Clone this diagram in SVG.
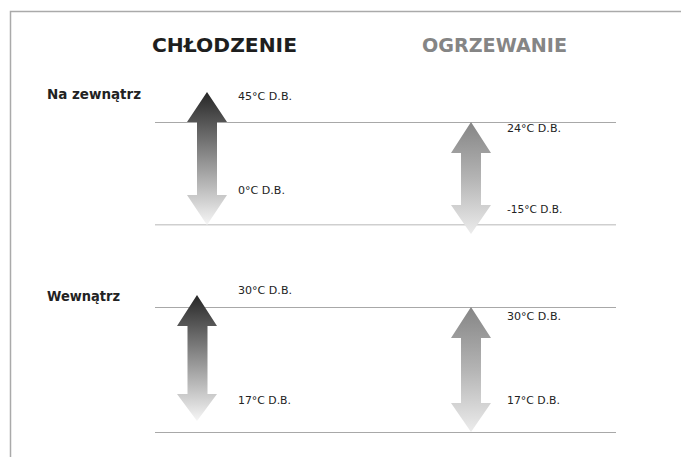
<svg xmlns="http://www.w3.org/2000/svg" width="681" height="457" viewBox="0 0 681 457">
<defs>
<linearGradient id="gCool" x1="0" y1="0" x2="0" y2="1">
<stop offset="0" stop-color="#262626"/>
<stop offset="0.5" stop-color="#8e8e8e"/>
<stop offset="1" stop-color="#f6f6f6"/>
</linearGradient>
<linearGradient id="gHeat" x1="0" y1="0" x2="0" y2="1">
<stop offset="0" stop-color="#858585"/>
<stop offset="0.5" stop-color="#b4b4b4"/>
<stop offset="1" stop-color="#ececec"/>
</linearGradient>
</defs>
<style>
.title{font-family:"DejaVu Sans",sans-serif;font-weight:bold;font-size:20px}
.lab{font-family:"DejaVu Sans",sans-serif;font-weight:bold;font-size:13.5px;fill:#222}
.t{font-family:"DejaVu Sans",sans-serif;font-size:10.5px;fill:#222}
.ln{stroke:#a8a8a8;stroke-width:1;fill:none}
.ln2{stroke:#cfcfcf;stroke-width:1.5;fill:none}
.frame{stroke:#aaaaaa;stroke-width:1.5;fill:none}
</style>
<rect width="681" height="457" fill="#ffffff"/>
<path class="frame" d="M10.5 457 V11.5 H681"/>
<g id="connectors">
<line class="ln" x1="155" y1="122.5" x2="616" y2="122.5"/>
<line class="ln2" x1="155" y1="224.8" x2="616" y2="224.8"/>
<line class="ln" x1="155" y1="307.5" x2="616" y2="307.5"/>
<line class="ln" x1="155" y1="432.5" x2="616" y2="432.5"/>
</g>
<g id="title-cooling"><text class="title" x="152" y="52" fill="#1e1e1e" textLength="145" lengthAdjust="spacingAndGlyphs">CHŁODZENIE</text></g>
<g id="title-heating"><text class="title" x="422" y="52" fill="#858585" textLength="145" lengthAdjust="spacingAndGlyphs">OGRZEWANIE</text></g>
<g id="label-outside"><text class="lab" x="47" y="98.5" textLength="94" lengthAdjust="spacingAndGlyphs">Na zewnątrz</text></g>
<g id="label-inside"><text class="lab" x="47" y="300.5" textLength="73" lengthAdjust="spacingAndGlyphs">Wewnątrz</text></g>
<g id="arrow-cool-out">
<path fill="url(#gCool)" d="M207 92 L227 122 L217 122 L217 195 L227 195 L207 225 L187 195 L197 195 L197 122 L187 122 Z"/>
<text class="t" x="238" y="100" textLength="54" lengthAdjust="spacingAndGlyphs">45°C D.B.</text>
<text class="t" x="238" y="194" textLength="47" lengthAdjust="spacingAndGlyphs">0°C D.B.</text>
</g>
<g id="arrow-heat-out">
<path fill="url(#gHeat)" d="M471 122 L491 153 L481 153 L481 205 L491 205 L471 234 L451 205 L461 205 L461 153 L451 153 Z"/>
<text class="t" x="507" y="132.3" textLength="54" lengthAdjust="spacingAndGlyphs">24°C D.B.</text>
<text class="t" x="507" y="212.6" textLength="55.5" lengthAdjust="spacingAndGlyphs">-15°C D.B.</text>
</g>
<g id="arrow-cool-in">
<path fill="url(#gCool)" d="M197 295 L217 326 L207.5 326 L207.5 394 L217 394 L197 421 L177 394 L187.5 394 L187.5 326 L177 326 Z"/>
<text class="t" x="238" y="294" textLength="54" lengthAdjust="spacingAndGlyphs">30°C D.B.</text>
<text class="t" x="238" y="404" textLength="53" lengthAdjust="spacingAndGlyphs">17°C D.B.</text>
</g>
<g id="arrow-heat-in">
<path fill="url(#gHeat)" d="M471 307 L491 338 L481 338 L481 403 L491 403 L471 432 L451 403 L461 403 L461 338 L451 338 Z"/>
<text class="t" x="507" y="320" textLength="54" lengthAdjust="spacingAndGlyphs">30°C D.B.</text>
<text class="t" x="507" y="404" textLength="53" lengthAdjust="spacingAndGlyphs">17°C D.B.</text>
</g>
</svg>
